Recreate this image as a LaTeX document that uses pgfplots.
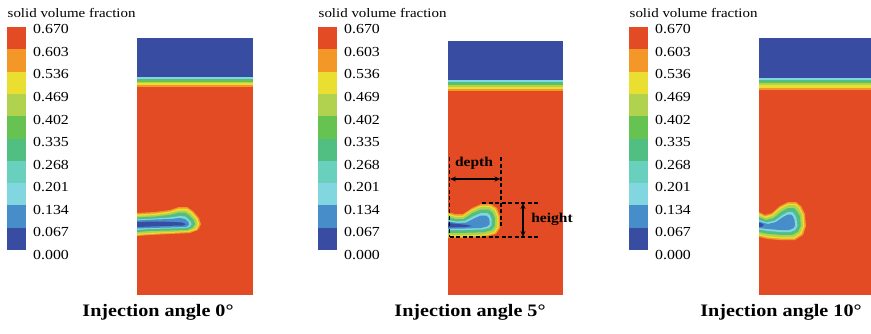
\documentclass[border=0pt]{standalone}
\usepackage{pgfplots}
\pgfplotsset{compat=1.18}
\usetikzlibrary{arrows.meta}
\usepackage{fontspec}
\setmainfont{Liberation Serif}[FakeStretch=1.15]
\definecolor{c0}{RGB}{56,76,161}
\definecolor{c1}{RGB}{70,141,202}
\definecolor{c2}{RGB}{130,214,224}
\definecolor{c3}{RGB}{104,208,188}
\definecolor{c4}{RGB}{82,191,130}
\definecolor{c5}{RGB}{102,195,82}
\definecolor{c6}{RGB}{176,210,78}
\definecolor{c7}{RGB}{234,223,48}
\definecolor{c8}{RGB}{243,152,40}
\definecolor{c9}{RGB}{227,75,36}
\newcommand\tl{\fontsize{13.8}{14}\selectfont}
\newcommand\rect[5]{\addplot[fill=#1,draw=none,forget plot] coordinates {(#2,#3)(#4,#3)(#4,#5)(#2,#5)} --cycle;}
\newcommand\cblabels[1]{%
\node[anchor=west,inner sep=0pt] at (axis cs:#1,29.3) {\tl 0.670};
\node[anchor=west,inner sep=0pt] at (axis cs:#1,51.9) {\tl 0.603};
\node[anchor=west,inner sep=0pt] at (axis cs:#1,74.4) {\tl 0.536};
\node[anchor=west,inner sep=0pt] at (axis cs:#1,97.0) {\tl 0.469};
\node[anchor=west,inner sep=0pt] at (axis cs:#1,119.6) {\tl 0.402};
\node[anchor=west,inner sep=0pt] at (axis cs:#1,142.2) {\tl 0.335};
\node[anchor=west,inner sep=0pt] at (axis cs:#1,164.7) {\tl 0.268};
\node[anchor=west,inner sep=0pt] at (axis cs:#1,187.3) {\tl 0.201};
\node[anchor=west,inner sep=0pt] at (axis cs:#1,209.9) {\tl 0.134};
\node[anchor=west,inner sep=0pt] at (axis cs:#1,232.4) {\tl 0.067};
\node[anchor=west,inner sep=0pt] at (axis cs:#1,255.0) {\tl 0.000};}
\begin{document}
\begin{tikzpicture}
\begin{axis}[x=1pt,y=1pt,xmin=0,xmax=871,ymin=0,ymax=333,y dir=reverse,
  hide axis,clip=false]
\addplot[draw=none,forget plot] coordinates {(0,0)(871,333)};
% ---------- colour bars ----------
\rect{c9}{7}{27}{26}{49.3}
\rect{c8}{7}{49.3}{26}{71.6}
\rect{c7}{7}{71.6}{26}{93.9}
\rect{c6}{7}{93.9}{26}{116.2}
\rect{c5}{7}{116.2}{26}{138.5}
\rect{c4}{7}{138.5}{26}{160.8}
\rect{c3}{7}{160.8}{26}{183.1}
\rect{c2}{7}{183.1}{26}{205.4}
\rect{c1}{7}{205.4}{26}{227.7}
\rect{c0}{7}{227.7}{26}{250}
\rect{c9}{318}{27}{337}{49.3}
\rect{c8}{318}{49.3}{337}{71.6}
\rect{c7}{318}{71.6}{337}{93.9}
\rect{c6}{318}{93.9}{337}{116.2}
\rect{c5}{318}{116.2}{337}{138.5}
\rect{c4}{318}{138.5}{337}{160.8}
\rect{c3}{318}{160.8}{337}{183.1}
\rect{c2}{318}{183.1}{337}{205.4}
\rect{c1}{318}{205.4}{337}{227.7}
\rect{c0}{318}{227.7}{337}{250}
\rect{c9}{629}{27}{648}{49.3}
\rect{c8}{629}{49.3}{648}{71.6}
\rect{c7}{629}{71.6}{648}{93.9}
\rect{c6}{629}{93.9}{648}{116.2}
\rect{c5}{629}{116.2}{648}{138.5}
\rect{c4}{629}{138.5}{648}{160.8}
\rect{c3}{629}{160.8}{648}{183.1}
\rect{c2}{629}{183.1}{648}{205.4}
\rect{c1}{629}{205.4}{648}{227.7}
\rect{c0}{629}{227.7}{648}{250}
\cblabels{33}
\cblabels{344}
\cblabels{655}
\node[anchor=west,inner sep=0pt] at (axis cs:7.5,13) {\fontsize{13}{13}\selectfont solid volume fraction};
\node[anchor=west,inner sep=0pt] at (axis cs:318.5,13) {\fontsize{13}{13}\selectfont solid volume fraction};
\node[anchor=west,inner sep=0pt] at (axis cs:629.5,13) {\fontsize{13}{13}\selectfont solid volume fraction};
% ---------- panel 1 ----------
\rect{c9}{137}{87}{253}{295}
\rect{c0}{137}{38}{253}{77}
\rect{c2}{137}{77}{253}{78.5}
\rect{c4}{137}{78.5}{253}{80}
\rect{c5}{137}{80}{253}{81.5}
\rect{c6}{137}{81.5}{253}{83}
\rect{c7}{137}{83}{253}{85}
\rect{c8}{137}{85}{253}{87}
\addplot[fill=c8,draw=none,forget plot] coordinates {(137,213)(155,212)(170,210)(179,207)(187,207)(193,211)(199,218)(201,224)(198,230)(190,233)(170,234)(150,235)(137,236)} --cycle;
\addplot[fill=c7,draw=none,forget plot] coordinates {(137,214.5)(155,213.5)(170,211.5)(179,208.5)(187,208.5)(192,212)(197.5,218.5)(199.5,224)(196.5,229.5)(189,232)(170,233)(150,234)(137,235)} --cycle;
\addplot[fill=c6,draw=none,forget plot] coordinates {(137,216)(155,215)(170,213)(179,210.5)(186,210.5)(190.5,213.5)(196,219)(197.5,224)(195,228.5)(188.5,231)(170,232)(150,232.8)(137,233.8)} --cycle;
\addplot[fill=c4,draw=none,forget plot] coordinates {(137,217.5)(155,216.5)(170,214.8)(179.5,212.5)(185.5,212.8)(189.5,215.5)(194,220)(195,224.2)(192.5,227.8)(187,230)(170,230.5)(150,231)(137,232)} --cycle;
\addplot[fill=c2,draw=none,forget plot] coordinates {(137,219.5)(155,218.5)(170,217.5)(180,216)(185,216.5)(188,219)(191,222)(191.5,224.5)(189.5,227)(185,228)(170,228.5)(150,229)(137,230)} --cycle;
\addplot[fill=c1,draw=none,forget plot] coordinates {(137,220.5)(155,219.5)(170,219)(180,218)(185,219)(188.5,222)(189,225)(186,227)(170,227.5)(150,228)(137,228.5)} --cycle;
\addplot[fill=c0,draw=none,forget plot] coordinates {(137,222)(155,221.5)(170,221.8)(182,222.5)(186,224)(183,225.5)(170,225.8)(150,226.5)(137,227)} --cycle;
% ---------- panel 2 ----------
\rect{c9}{448}{91}{563}{295}
\rect{c0}{448}{41}{563}{80}
\rect{c2}{448}{80}{563}{81.5}
\rect{c4}{448}{81.5}{563}{83.5}
\rect{c5}{448}{83.5}{563}{85}
\rect{c6}{448}{85}{563}{87}
\rect{c7}{448}{87}{563}{89}
\rect{c8}{448}{89}{563}{91}
\addplot[fill=c8,draw=none,forget plot] coordinates {(448,212)(455,214)(463,214)(472,208)(481,204)(491,204)(497,208)(500,216)(500,228)(496,234)(485,237)(465,238)(448,238)} --cycle;
\addplot[fill=c7,draw=none,forget plot] coordinates {(448,213.5)(455,215.5)(463,215.5)(472,209.5)(481,205.5)(490,205.5)(495.5,209)(498.5,216)(498.5,227.5)(495,233)(485,235.5)(465,236.5)(448,236.5)} --cycle;
\addplot[fill=c6,draw=none,forget plot] coordinates {(448,215)(455,217)(463,217)(472,211)(481,207)(489.5,207)(494.5,210.5)(497,216.5)(497,227)(494,232)(484.5,234.5)(465,235.2)(448,235.2)} --cycle;
\addplot[fill=c4,draw=none,forget plot] coordinates {(448,217)(455.5,219)(463.5,219)(472.5,213)(481,209.5)(488.5,209.5)(492.5,212.5)(494.8,217.5)(494.8,226)(492,230)(483.5,232.3)(465,232.8)(448,232.8)} --cycle;
\addplot[fill=c2,draw=none,forget plot] coordinates {(448,220)(457,221.5)(465,221)(474,216)(481,213)(487,213)(490,215)(491.5,219)(491.5,225)(489,228)(482,229.5)(465,230)(448,230)} --cycle;
\addplot[fill=c1,draw=none,forget plot] coordinates {(448,221.5)(458,223)(466,222.5)(475,218)(481,215.5)(486,215.5)(488.5,217.5)(489.5,220.5)(489.5,224.5)(487,226.5)(481,228)(465,228.5)(448,228.5)} --cycle;
\addplot[fill=c0,draw=none,forget plot] coordinates {(448,223)(458,224)(468,225)(472,226)(465,227)(448,227.5)} --cycle;
% annotations
\addplot[black,dash pattern=on 4pt off 2.5pt,line width=1.2pt,forget plot] coordinates {(449.5,157)(449.5,237)};
\addplot[black,dash pattern=on 4pt off 2.5pt,line width=1.2pt,forget plot] coordinates {(501,157)(501,226)};
\addplot[black,dash pattern=on 4pt off 2.5pt,line width=1.2pt,forget plot] coordinates {(482,203)(538,203)};
\addplot[black,dash pattern=on 4pt off 2.5pt,line width=1.2pt,forget plot] coordinates {(449.5,237)(538,237)};
\addplot[black,line width=1.2pt,{Stealth[length=6pt,width=5pt]}-{Stealth[length=6pt,width=5pt]},forget plot] coordinates {(450,179)(500.5,179)};
\addplot[black,line width=1.2pt,{Stealth[length=6pt,width=5pt]}-{Stealth[length=6pt,width=5pt]},forget plot] coordinates {(523,203)(523,237)};
\node[inner sep=0pt] at (axis cs:474,163) {\fontsize{13.5}{14}\selectfont\bfseries depth};
\node[inner sep=0pt] at (axis cs:552,219) {\fontsize{13.5}{14}\selectfont\bfseries height};
% ---------- panel 3 ----------
\rect{c9}{759}{90}{871}{295}
\rect{c0}{759}{38}{871}{78}
\rect{c2}{759}{78}{871}{79.5}
\rect{c4}{759}{79.5}{871}{81.5}
\rect{c5}{759}{81.5}{871}{83}
\rect{c6}{759}{83}{871}{85}
\rect{c7}{759}{85}{871}{87.5}
\rect{c8}{759}{87.5}{871}{90}
\addplot[fill=c8,draw=none,forget plot] coordinates {(759,212)(765,215)(772,213)(780,206)(788,202)(796,202)(801,206)(805,214)(806,226)(803,235)(795,240)(780,240)(768,239)(759,237)} --cycle;
\addplot[fill=c7,draw=none,forget plot] coordinates {(759,213.5)(765,216.5)(772,214.5)(780,207.5)(788,203.5)(795.5,203.5)(799.5,207)(803.5,214.5)(804.5,226)(801.5,234)(794.5,238.5)(780,238.5)(768,237.5)(759,235.5)} --cycle;
\addplot[fill=c6,draw=none,forget plot] coordinates {(759,215)(765.5,218)(772.5,216)(780.5,209)(788,205.2)(795,205.2)(798.8,208.5)(802,215)(803,226)(800,233)(793.8,237)(780,237)(768,236)(759,234)} --cycle;
\addplot[fill=c4,draw=none,forget plot] coordinates {(759,217)(766,220)(773.5,218)(781.5,211.5)(788,208)(793.8,208)(797,211)(800,216.2)(800.8,226)(798,231.8)(792.3,234.8)(780,234.8)(768,233.8)(759,232)} --cycle;
\addplot[fill=c2,draw=none,forget plot] coordinates {(759,220)(767,222.5)(775,220.5)(782.5,215)(788,212)(792,212)(794.5,214.5)(796.5,218.5)(797.5,226)(795,230)(790.5,232)(780,232)(768,231)(759,229.5)} --cycle;
\addplot[fill=c1,draw=none,forget plot] coordinates {(759,221.5)(768,224)(776,222)(783,217)(788,214.5)(791,214.5)(793,216.5)(794.5,220)(795,226)(793,228.5)(789,230)(780,230)(768,229)(759,228)} --cycle;
\addplot[fill=c0,draw=none,forget plot] coordinates {(759,222.5)(762,223.5)(764,225)(762,226.5)(759,227)} --cycle;
% ---------- titles ----------
\node[inner sep=0pt] at (axis cs:158,312) {\fontsize{17.5}{19}\selectfont\bfseries Injection angle 0°};
\node[inner sep=0pt] at (axis cs:470,312) {\fontsize{17.5}{19}\selectfont\bfseries Injection angle 5°};
\node[inner sep=0pt] at (axis cs:781,312) {\fontsize{17.5}{19}\selectfont\bfseries Injection angle 10°};
\end{axis}
\end{tikzpicture}
\end{document}
